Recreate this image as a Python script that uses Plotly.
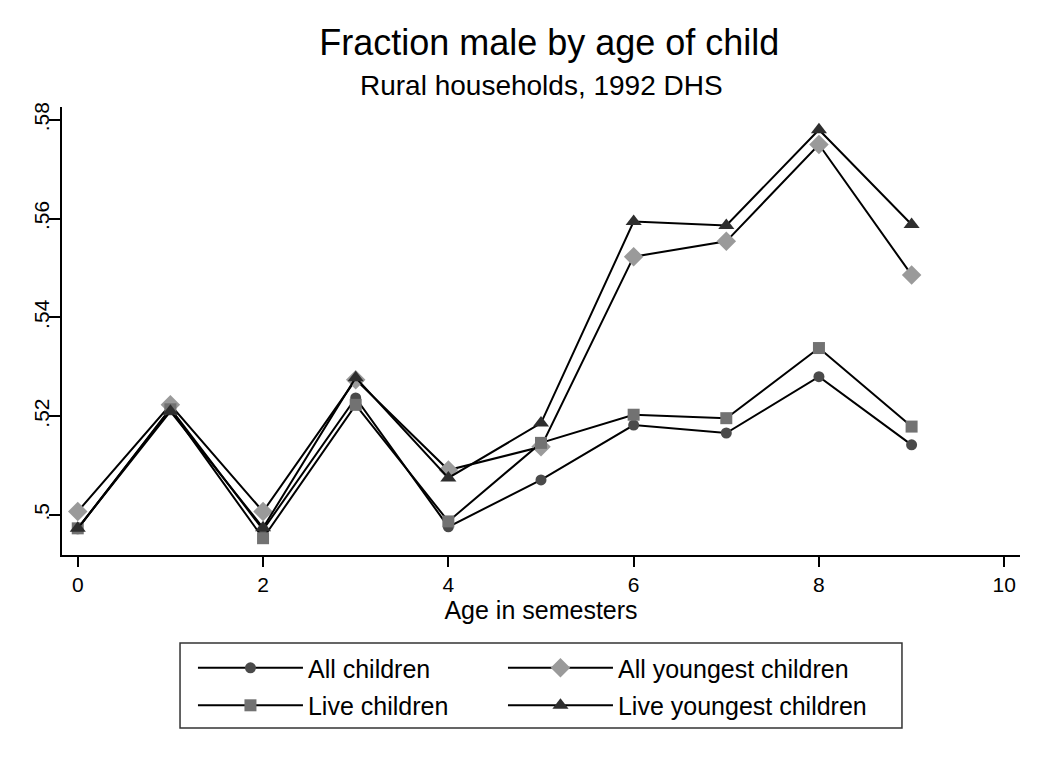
import plotly.graph_objects as go

# age in semesters
age = [0, 1, 2, 3, 4, 5, 6, 7, 8, 9]

# fraction male
all_children = [0.4972, 0.5216, 0.4970, 0.5237, 0.4976, 0.5071, 0.5182, 0.5166, 0.5280, 0.5142]
all_youngest = [0.5007, 0.5223, 0.5007, 0.5274, 0.5091, 0.5138, 0.5523, 0.5554, 0.5750, 0.5486]
live_children = [0.4973, 0.5214, 0.4953, 0.5223, 0.4987, 0.5146, 0.5203, 0.5196, 0.5338, 0.5179]
live_youngest = [0.4973, 0.5210, 0.4974, 0.5278, 0.5075, 0.5186, 0.5594, 0.5586, 0.5780, 0.5588]

y_ticks = [0.50, 0.52, 0.54, 0.56, 0.58]
y_tick_labels = [".5", ".52", ".54", ".56", ".58"]
x_ticks = [0, 2, 4, 6, 8, 10]

FONT = "Liberation Sans, Arial, sans-serif"

# name, values, symbol, colour, size, legend column
series = [
    ("All children", all_children, "circle", "#4a4a4a", 11, "legend"),
    ("All youngest children", all_youngest, "diamond", "#9a9a9a", 15, "legend2"),
    ("Live children", live_children, "square", "#727272", 12, "legend"),
    ("Live youngest children", live_youngest, "triangle-up", "#2e2e2e", 14, "legend2"),
]

fig = go.Figure()
for name, vals, sym, col, sz, leg in series:
    fig.add_trace(go.Scatter(
        x=age, y=vals, name=name, mode="lines+markers", legend=leg, legendgroup=name,
        line=dict(color="black", width=2),
        marker=dict(symbol=sym, color=col, size=sz, line=dict(width=0)),
    ))

legend_style = dict(
    orientation="v", yanchor="top", y=-0.201, xanchor="left",
    bgcolor="rgba(0,0,0,0)", borderwidth=0,
    itemwidth=105, tracegroupgap=2, traceorder="grouped",
    font=dict(size=25),
)

# page body adds 8px, so margins are shifted to compensate
fig.update_layout(
    width=1050, height=758,
    paper_bgcolor="white", plot_bgcolor="white",
    font=dict(family=FONT, color="black", size=21),
    margin=dict(l=54, r=38, t=99, b=211),
    title=dict(
        text="Fraction male by age of child",
        font=dict(size=36, family=FONT),
        x=0.5155, xanchor="center", y=0.954, yanchor="middle",
    ),
    annotations=[dict(
        text="Rural households, 1992 DHS", xref="paper", yref="paper",
        x=0.5, y=1.049, xanchor="center", yanchor="middle", showarrow=False,
        font=dict(size=28, family=FONT, color="black"),
    )],
    shapes=[dict(
        type="rect", xref="paper", yref="paper",
        x0=0.1232, x1=0.8768, y0=-0.3862, y1=-0.1964,
        line=dict(color="#333333", width=1.5), fillcolor="rgba(0,0,0,0)",
    )],
    xaxis=dict(
        range=[-0.17, 10.17], tickvals=x_ticks, showgrid=False, zeroline=False,
        showline=True, linecolor="black", linewidth=1.5, automargin=False,
        ticks="outside", ticklen=10, tickcolor="black", tickwidth=1.5,
        tickfont=dict(size=21),
        title=dict(text="Age in semesters", font=dict(size=25), standoff=2),
    ),
    yaxis=dict(
        range=[0.4919, 0.5826], tickvals=y_ticks, ticktext=y_tick_labels,
        showgrid=False, zeroline=False, automargin=False,
        showline=True, linecolor="black", linewidth=1.5,
        ticks="outside", ticklen=11, tickcolor="black", tickwidth=1.5,
        tickangle=-90, tickfont=dict(size=21), ticklabelstandoff=-8,
    ),
    legend=dict(legend_style, x=0.1367),
    legend2=dict(legend_style, x=0.4603),
    showlegend=True,
)

fig.write_html("out.html")
